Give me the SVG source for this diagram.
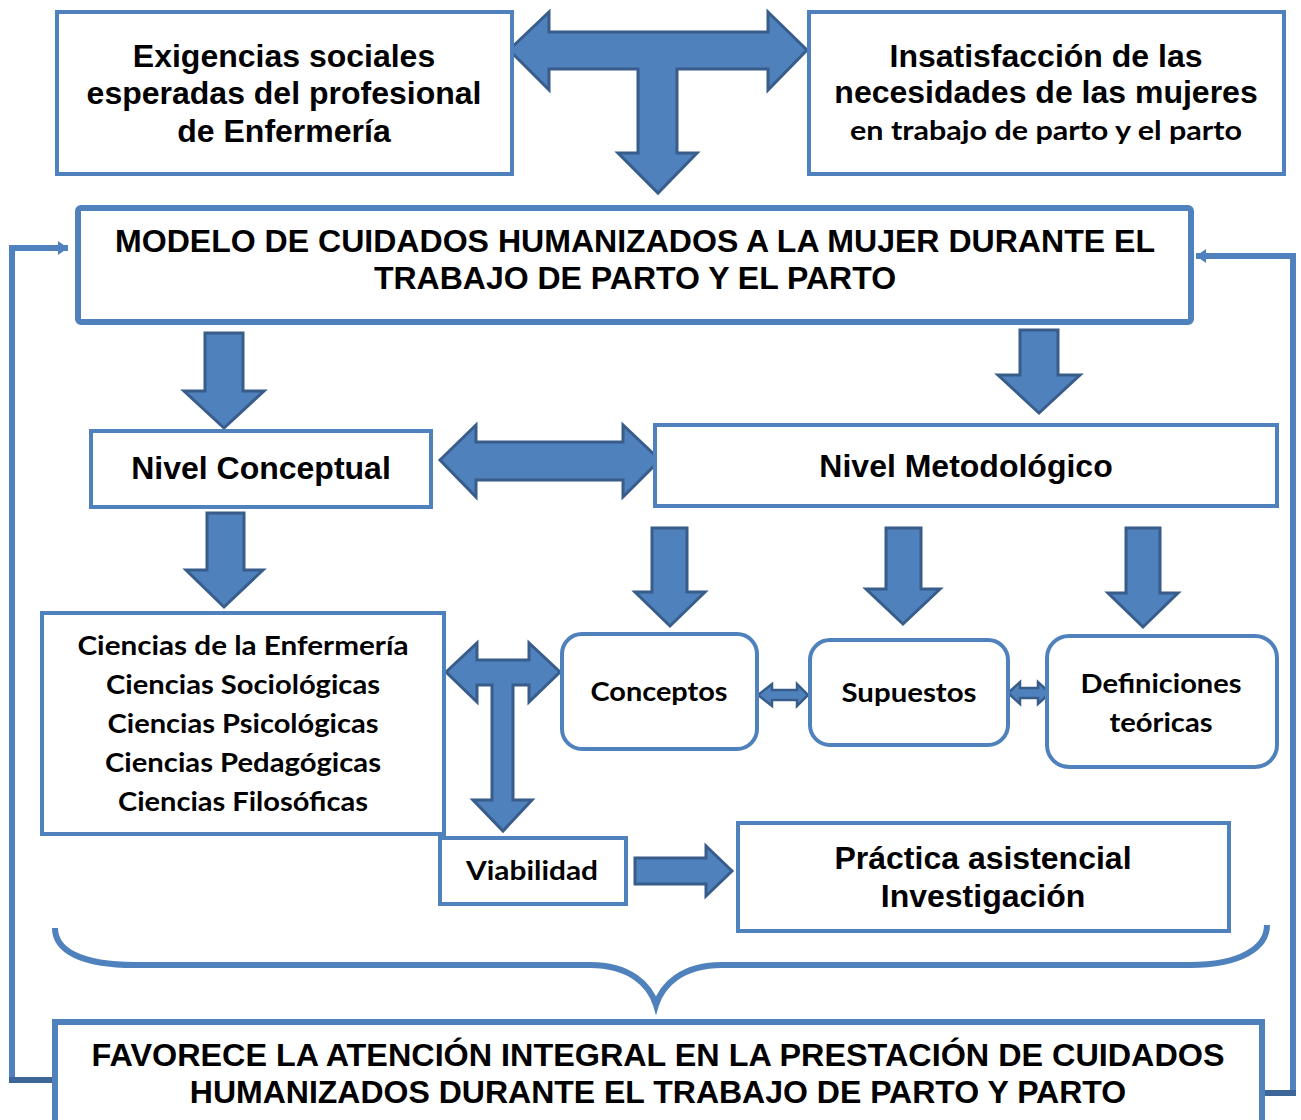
<svg xmlns="http://www.w3.org/2000/svg" width="1301" height="1120" viewBox="0 0 1301 1120">
<defs>
<style>
.box{fill:#fff;stroke:#4F81BD;stroke-width:4}
.boxb{fill:#fff;stroke:#4F81BD;stroke-width:6}
.arr{fill:#4F81BD;stroke:#385D8A;stroke-width:3;stroke-linejoin:miter}
.sarr{fill:#4F81BD;stroke:#385D8A;stroke-width:2.5}
.ar{font-family:"Liberation Sans",Arial,sans-serif;font-weight:bold;font-size:32px;fill:#000;text-anchor:middle}
.ca{font-family:Lato,"Open Sans",sans-serif;font-weight:bold;font-size:27px;fill:#000;text-anchor:middle}
.con{fill:none;stroke:#4F81BD;stroke-width:6}
</style>
<marker id="ah" markerUnits="userSpaceOnUse" markerWidth="12" markerHeight="14" refX="10" refY="7" orient="auto">
<path d="M0,0 L10,7 L0,14 z" fill="#4F81BD"/>
</marker>
</defs>
<rect width="1301" height="1120" fill="#fff"/>

<g id="connectors">
<polyline class="con" points="55,1080 12,1080 12,248 68,248" marker-end="url(#ah)"/>
<line x1="9" y1="1080" x2="55" y2="1080" stroke="#3C6698" stroke-width="6"/>
<polyline class="con" points="1262,1093 1293,1093 1293,256 1196,256" marker-end="url(#ah)"/>
<line x1="1262" y1="1093" x2="1296" y2="1093" stroke="#3C6698" stroke-width="6"/>
<polygon class="arr" points="509,50 549,12 549,32 768,32 768,12 807,50 768,90 768,69 677,69 677,153 697,153 658,193 618,153 638,153 638,69 549,69 549,90"/>
<polygon class="arr" points="205,333 243,333 243,391 264,391 224,428 184,391 205,391"/>
<polygon class="arr" points="1020,330 1058,330 1058,375 1080,375 1039,413 998,375 1020,375"/>
<polygon class="arr" points="207,513 244,513 244,570 263,570 224,607 186,570 207,570"/>
<polygon class="arr" points="440,460 476,425 476,442 623,442 623,425 660,460 623,497 623,480 476,480 476,497"/>
<polygon class="arr" points="652,528 687,528 687,592 705,592 670,626 635,592 652,592"/>
<polygon class="arr" points="886,528 921,528 921,589 940,589 903,624 866,589 886,589"/>
<polygon class="arr" points="1126,528 1160,528 1160,593 1178,593 1143,627 1108,593 1126,593"/>
<polygon class="arr" points="446,672 477,643 477,660 529,660 529,643 560,672 529,702 529,685 513,685 513,800 532,800 503,831 473,800 492,800 492,685 477,685 477,702"/>
<polygon class="sarr" points="758,695 772,684 772,690 797,690 797,684 808,695 797,706 797,700 772,700 772,706"/>
<polygon class="sarr" points="1008,693 1020,682 1020,688 1038,688 1038,682 1050,693 1038,704 1038,698 1020,698 1020,704"/>
<polygon class="arr" points="635,858 706,858 706,846 732,871 706,896 706,884 635,884"/>
<path class="con" d="M55,928 C55,950 80,965 135,965 L590,965 C630,965 650,985 656,1005 C662,985 682,965 722,965 L1190,965 C1240,965 1267,948 1267,925"/>
</g>

<g id="exigencias">
<rect class="box" x="57" y="12" width="455" height="162"/>
<text class="ar" x="284" y="67">Exigencias sociales</text>
<text class="ar" x="284" y="104">esperadas del profesional</text>
<text class="ar" x="284" y="142">de Enfermería</text>
</g>

<g id="insatisfaccion">
<rect class="box" x="809" y="12" width="475" height="162"/>
<text class="ar" x="1046" y="67">Insatisfacción de las</text>
<text class="ar" x="1046" y="103">necesidades de las mujeres</text>
<text class="ca" x="1046" y="140" textLength="392" lengthAdjust="spacingAndGlyphs">en trabajo de parto y el parto</text>
</g>

<g id="modelo">
<rect class="boxb" x="78" y="208" width="1113" height="114" rx="3"/>
<text class="ar" x="635" y="252" textLength="1040" lengthAdjust="spacingAndGlyphs">MODELO DE CUIDADOS HUMANIZADOS A LA MUJER DURANTE EL</text>
<text class="ar" x="635" y="289">TRABAJO DE PARTO Y EL PARTO</text>
</g>

<g id="conceptual">
<rect class="box" x="91" y="431" width="340" height="76"/>
<text class="ar" x="261" y="479">Nivel Conceptual</text>
</g>

<g id="metodologico">
<rect class="box" x="655" y="425" width="622" height="81"/>
<text class="ar" x="966" y="477">Nivel Metodológico</text>
</g>

<g id="ciencias">
<rect class="box" x="42" y="613" width="402" height="221"/>
<text class="ca" x="243" y="655" textLength="331" lengthAdjust="spacingAndGlyphs">Ciencias de la Enfermería</text>
<text class="ca" x="243" y="694" textLength="274" lengthAdjust="spacingAndGlyphs">Ciencias Sociológicas</text>
<text class="ca" x="243" y="733" textLength="271" lengthAdjust="spacingAndGlyphs">Ciencias Psicológicas</text>
<text class="ca" x="243" y="772" textLength="276" lengthAdjust="spacingAndGlyphs">Ciencias Pedagógicas</text>
<text class="ca" x="243" y="811" textLength="250" lengthAdjust="spacingAndGlyphs">Ciencias Filosóficas</text>
</g>

<g id="conceptos">
<rect class="box" x="562" y="634" width="195" height="115" rx="20"/>
<text class="ca" x="659" y="701" textLength="137" lengthAdjust="spacingAndGlyphs">Conceptos</text>
</g>

<g id="supuestos">
<rect class="box" x="810" y="640" width="198" height="105" rx="20"/>
<text class="ca" x="909" y="702" textLength="135" lengthAdjust="spacingAndGlyphs">Supuestos</text>
</g>

<g id="definiciones">
<rect class="box" x="1047" y="636" width="230" height="131" rx="22"/>
<text class="ca" x="1161" y="693" textLength="161" lengthAdjust="spacingAndGlyphs">Definiciones</text>
<text class="ca" x="1161" y="732" textLength="103" lengthAdjust="spacingAndGlyphs">teóricas</text>
</g>

<g id="viabilidad">
<rect class="box" x="440" y="838" width="186" height="66"/>
<text class="ca" x="532" y="880" textLength="132" lengthAdjust="spacingAndGlyphs">Viabilidad</text>
</g>

<g id="practica">
<rect class="box" x="738" y="823" width="491" height="108"/>
<text class="ar" x="983" y="869">Práctica asistencial</text>
<text class="ar" x="983" y="907">Investigación</text>
</g>

<g id="favorece">
<rect class="boxb" x="55" y="1022" width="1207" height="110"/>
<text class="ar" x="658" y="1066" textLength="1133" lengthAdjust="spacingAndGlyphs">FAVORECE LA ATENCIÓN INTEGRAL EN LA PRESTACIÓN DE CUIDADOS</text>
<text class="ar" x="658" y="1103">HUMANIZADOS DURANTE EL TRABAJO DE PARTO Y PARTO</text>
</g>
</svg>
